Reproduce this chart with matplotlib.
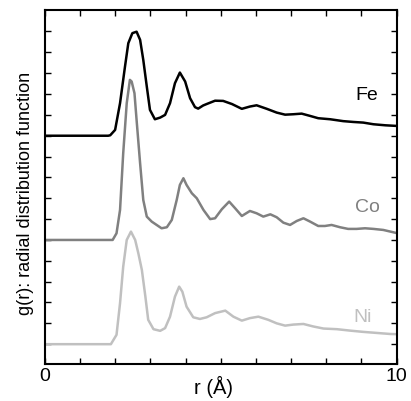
import matplotlib
matplotlib.use("Agg")
import matplotlib.pyplot as plt

plt.rcParams['font.family'] = ['Liberation Sans', 'DejaVu Sans']

# g(r) curves (values relative to each curve's baseline)
r_fe = [0.0, 1.0, 1.8, 1.86, 2.0, 2.14, 2.28, 2.375, 2.49, 2.61, 2.71, 2.8, 2.9, 2.99, 3.13, 3.28, 3.42,
        3.56, 3.7, 3.84, 3.99, 4.13, 4.27, 4.36, 4.5, 4.6, 4.84, 5.07, 5.32, 5.6, 5.83, 6.02, 6.31,
        6.59, 6.83, 7.06, 7.3, 7.54, 7.77, 8.11, 8.48, 8.77, 9.05, 9.34, 9.68, 10.0]
g_fe = [0.0, 0.0, 0.0, 0.02, 0.28, 1.56, 3.31, 4.44, 4.92, 4.99, 4.6, 3.64, 2.36, 1.24, 0.79, 0.87, 1.0,
        1.56, 2.52, 3.03, 2.6, 1.8, 1.37, 1.3, 1.45, 1.52, 1.68, 1.67, 1.52, 1.29, 1.4, 1.46, 1.29,
        1.11, 1.01, 1.03, 1.06, 0.95, 0.84, 0.79, 0.7, 0.66, 0.63, 0.55, 0.5, 0.47]

r_co = [0.0, 1.0, 1.93, 2.04, 2.14, 2.23, 2.33, 2.42, 2.47, 2.55, 2.61, 2.71, 2.8, 2.9, 3.04, 3.18,
        3.32, 3.47, 3.61, 3.75, 3.84, 3.94, 4.03, 4.18, 4.32, 4.51, 4.7, 4.84, 5.03, 5.24, 5.41, 5.6,
        5.83, 6.02, 6.21, 6.41, 6.59, 6.78, 6.97, 7.16, 7.35, 7.54, 7.77, 7.96, 8.15, 8.39, 8.62,
        8.86, 9.1, 9.34, 9.62, 10.0]
g_co = [0.0, 0.0, 0.0, 0.32, 1.44, 4.16, 6.56, 7.68, 7.6, 7.04, 5.76, 3.68, 1.92, 1.12, 0.88, 0.72,
        0.56, 0.61, 0.96, 1.92, 2.64, 2.96, 2.64, 2.24, 2.0, 1.44, 1.0, 1.04, 1.47, 1.84, 1.52, 1.15,
        1.39, 1.28, 1.12, 1.23, 1.09, 0.83, 0.72, 0.91, 1.04, 0.88, 0.67, 0.67, 0.72, 0.61, 0.53,
        0.53, 0.56, 0.53, 0.48, 0.33]

r_ni = [0.0, 1.0, 1.88, 2.04, 2.14, 2.23, 2.33, 2.45, 2.57, 2.66, 2.76, 2.86, 2.94, 3.09, 3.28, 3.42,
        3.56, 3.7, 3.82, 3.91, 4.03, 4.22, 4.41, 4.6, 4.84, 5.13, 5.36, 5.6, 5.83, 6.07, 6.35, 6.59,
        6.83, 7.06, 7.35, 7.63, 7.92, 8.3, 8.68, 9.05, 9.43, 9.81, 10.0]
g_ni = [0.0, 0.0, 0.0, 0.45, 1.97, 3.72, 5.0, 5.4, 5.0, 4.36, 3.56, 2.28, 1.17, 0.72, 0.64, 0.77,
        1.32, 2.28, 2.76, 2.52, 1.8, 1.29, 1.21, 1.29, 1.49, 1.61, 1.32, 1.13, 1.25, 1.32, 1.17, 1.0,
        0.89, 0.94, 0.97, 0.85, 0.75, 0.72, 0.65, 0.59, 0.54, 0.49, 0.48]

labels = ["Fe", "Co", "Ni"]
x_ticks = list(range(0, 11))
x_tick_labels = ["0", "", "", "", "", "", "", "", "", "", "10"]
y_ticks = list(range(0, 16))

offsets = [10, 5, 0]
colors = ["#000000", "#808080", "#c0c0c0"]

fig = plt.figure(figsize=(4.11, 4.01), dpi=100)
ax = fig.add_axes([0.1088, 0.0923, 0.8564, 0.8827])

series = [(r_fe, g_fe), (r_co, g_co), (r_ni, g_ni)]
label_pos = [(9.16, 11.91), (9.16, 6.54), (9.04, 1.26)]
for (rr, gg), off, c, lab, (tx, ty) in zip(series, offsets, colors, labels, label_pos):
    ax.plot(rr, [g + off for g in gg], color=c, lw=1.8, solid_joinstyle='round')
    ax.text(tx, ty, lab, color=c, fontsize=14, ha='center', va='center')

ax.set_xlim(0, 10)
ax.set_ylim(-0.95, 16.03)
ax.set_xticks(x_ticks)
ax.set_xticklabels(x_tick_labels, fontsize=14)
ax.set_yticks(y_ticks)
ax.set_yticklabels([])
ax.tick_params(direction='in', top=True, right=True, length=4.5, width=1.0, pad=3)
for s in ax.spines.values():
    s.set_linewidth(1.5)

fig.text(213 / 411, 1 - 394 / 401, "r (Å)", fontsize=14.5, ha='center', va='baseline')
fig.text(25 / 411, 1 - 193.5 / 401, "g(r): radial distribution function", fontsize=13,
         rotation=90, ha='center', va='center')

fig.savefig("out.png", dpi=100)
